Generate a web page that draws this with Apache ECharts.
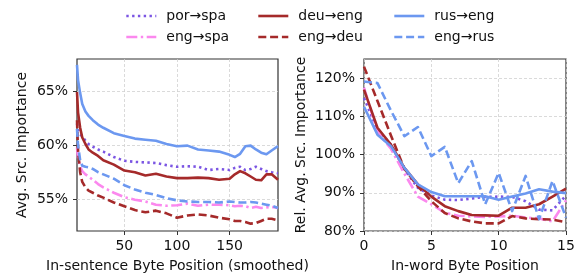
<!DOCTYPE html>
<html><head><meta charset="utf-8">
<script src="https://cdn.jsdelivr.net/npm/echarts@6/dist/echarts.min.js"></script>
<style>html,body{margin:0;padding:0;background:#fff}#c{width:579px;height:278px}</style>
</head><body><div id="c"></div>
<script>
// ---- Left panel: in-sentence byte position (smoothed) ----
const sentPos = [5, 6, 8, 10, 13, 16, 20, 25, 30, 40, 50, 60, 70, 80, 90, 100, 110, 120, 130, 140, 150, 155, 160, 165, 170, 175, 180, 185, 190, 196];
const sentPorSpa = [62.0, 61.4, 61.0, 60.8, 60.4, 60.1, 59.85, 59.6, 59.4, 58.9, 58.55, 58.45, 58.4, 58.35, 58.15, 58.0, 58.05, 58.0, 57.7, 57.8, 57.7, 57.9, 58.0, 57.7, 57.8, 58.0, 57.8, 57.6, 57.5, 57.4];
const sentEngSpa = [59.8, 58.8, 58.0, 57.6, 57.3, 57.1, 56.8, 56.4, 56.1, 55.6, 55.2, 54.95, 54.8, 54.5, 54.4, 54.45, 54.6, 54.4, 54.5, 54.5, 54.45, 54.35, 54.4, 54.35, 54.2, 54.3, 54.2, 54.25, 54.3, 54.2];
const sentDeuEng = [64.9, 63.0, 61.6, 60.7, 60.1, 59.6, 59.3, 59.0, 58.6, 58.2, 57.65, 57.5, 57.2, 57.35, 57.1, 56.95, 56.95, 57.0, 56.95, 56.8, 56.9, 57.3, 57.6, 57.4, 57.1, 56.8, 56.75, 57.3, 57.3, 56.8];
const sentEngDeu = [62.3, 59.5, 57.5, 56.6, 56.1, 55.8, 55.6, 55.35, 55.15, 54.7, 54.35, 54.0, 53.8, 53.95, 53.7, 53.3, 53.5, 53.6, 53.5, 53.3, 53.15, 53.0, 53.0, 52.9, 52.75, 52.8, 53.0, 53.2, 53.2, 53.05];
const sentRusEng = [67.4, 66.0, 64.8, 63.8, 63.1, 62.7, 62.3, 61.9, 61.6, 61.1, 60.85, 60.6, 60.5, 60.4, 60.1, 59.9, 59.95, 59.6, 59.5, 59.4, 59.1, 58.9, 59.2, 59.9, 59.95, 59.6, 59.3, 59.15, 59.5, 59.9];
const sentEngRus = [61.5, 60.0, 58.6, 58.1, 58.0, 57.95, 57.8, 57.5, 57.3, 56.9, 56.3, 55.9, 55.6, 55.4, 55.1, 54.9, 54.8, 54.75, 54.75, 54.7, 54.8, 54.75, 54.7, 54.7, 54.75, 54.7, 54.6, 54.5, 54.4, 54.2];

// ---- Right panel: in-word byte position ----
const wordPos = [0, 1, 2, 3, 4, 5, 6, 7, 8, 9, 10, 11, 12, 13, 14, 15];
const wordPorSpa = [114.8, 106.5, 102.6, 96.1, 91.3, 89.3, 88.2, 88.1, 88.5, 88.9, 89.0, 88.9, 87.8, 85.6, 85.4, 89.3];
const wordEngSpa = [117.5, 106.0, 101.5, 95.0, 89.0, 87.0, 84.8, 84.0, 83.8, 83.7, 83.8, 84.0, 83.5, 83.3, 82.5, 88.0];
const wordDeuEng = [117.0, 107.0, 102.6, 96.5, 92.2, 89.0, 86.5, 85.2, 84.2, 84.1, 84.0, 86.1, 86.1, 87.0, 89.0, 91.1];
const wordEngDeu = [123.0, 114.0, 105.0, 96.3, 91.7, 87.8, 84.7, 83.3, 82.5, 82.0, 82.0, 83.9, 83.3, 83.1, 83.0, 82.3];
const wordRusEng = [112.5, 105.2, 102.2, 96.5, 92.2, 90.2, 89.1, 89.1, 89.1, 89.1, 88.2, 89.0, 89.8, 90.9, 90.3, 89.9];
const wordEngRus = [119.1, 118.7, 111.5, 104.8, 107.2, 99.6, 102.0, 92.5, 98.3, 87.0, 95.2, 85.2, 94.4, 83.1, 93.1, 83.5];

// ---- tick labels ----
const leftXTicks = [50, 100, 150];
const leftYTicks = [55, 60, 65];
const rightXTicks = [0, 5, 10, 15];
const rightYTicks = [80, 90, 100, 110, 120];

const names = ['por→spa', 'eng→spa', 'deu→eng', 'eng→deu', 'rus→eng', 'eng→rus'];
const leftData = [sentPorSpa, sentEngSpa, sentDeuEng, sentEngDeu, sentRusEng, sentEngRus];
const rightData = [wordPorSpa, wordEngSpa, wordDeuEng, wordEngDeu, wordRusEng, wordEngRus];

const FONT = 'DejaVu Sans';
const styles = {
  'por→spa': { color: '#7b55e3', type: [2.4, 3.4] },
  'eng→spa': { color: '#fb88ee', type: [11, 3.5, 2.4, 3.5] },
  'deu→eng': { color: '#a52a2a', type: 'solid' },
  'eng→deu': { color: '#a52a2a', type: [8, 3.8] },
  'rus→eng': { color: '#6c98f0', type: 'solid' },
  'eng→rus': { color: '#6c98f0', type: [8, 3.8] }
};

function mkSeries(idx, xs, arrs) {
  return names.map((n, i) => ({
    name: n, type: 'line', xAxisIndex: idx, yAxisIndex: idx,
    data: xs.map((x, j) => [x, arrs[i][j]]),
    symbol: 'none', showSymbol: false, smooth: false,
    color: styles[n].color,
    itemStyle: { color: styles[n].color },
    lineStyle: { color: styles[n].color, width: 2.6, type: styles[n].type, cap: 'butt', join: 'round' },
    emphasis: { disabled: true }
  }));
}

const axisCommon = {
  axisLine: { show: false },
  axisTick: { show: true, length: 4, lineStyle: { color: '#333', width: 1 } },
  splitLine: { show: true, lineStyle: { color: '#d0d0d0', width: 0.8, type: [3, 2] } },
  nameTextStyle: { fontFamily: FONT, fontSize: 14, color: '#111' }
};
const lblStyle = { fontFamily: FONT, fontSize: 14, color: '#111' };

const legPos = [[125, 9], [125, 30], [257, 9], [257, 30], [393, 9], [393, 30]];
const legends = names.map((n, i) => ({
  data: [n], left: legPos[i][0], top: legPos[i][1], padding: 0,
  itemWidth: 30, itemHeight: 14, itemGap: 0,
  itemStyle: { opacity: 0, color: 'rgba(0,0,0,0)', borderWidth: 0 },
  lineStyle: { width: 2.6 },
  textStyle: { fontFamily: FONT, fontSize: 14, color: '#111', padding: [0, 0, 0, 5] }
}));

const option = {
  animation: false,
  backgroundColor: '#fff',
  legend: legends,
  grid: [
    { left: 77, top: 59, width: 201, height: 172, show: true, borderColor: '#333', borderWidth: 1.2, backgroundColor: 'transparent' },
    { left: 364, top: 59, width: 202, height: 172, show: true, borderColor: '#333', borderWidth: 1.2, backgroundColor: 'transparent' }
  ],
  xAxis: [
    Object.assign({}, axisCommon, {
      type: 'value', gridIndex: 0, min: 5, max: 196,
      name: 'In-sentence Byte Position (smoothed)', nameLocation: 'middle', nameGap: 28,
      axisTick: Object.assign({}, axisCommon.axisTick, { customValues: leftXTicks }),
      axisLabel: Object.assign({}, lblStyle, { customValues: leftXTicks, margin: 8 })
    }),
    Object.assign({}, axisCommon, {
      type: 'value', gridIndex: 1, min: 0, max: 15,
      name: 'In-word Byte Position', nameLocation: 'middle', nameGap: 28,
      axisTick: Object.assign({}, axisCommon.axisTick, { customValues: rightXTicks }),
      axisLabel: Object.assign({}, lblStyle, { customValues: rightXTicks, margin: 8 })
    })
  ],
  yAxis: [
    Object.assign({}, axisCommon, {
      type: 'value', gridIndex: 0, min: 52.07, max: 67.95,
      name: 'Avg. Src. Importance', nameLocation: 'middle', nameGap: 48,
      axisTick: Object.assign({}, axisCommon.axisTick, { customValues: leftYTicks }),
      axisLabel: Object.assign({}, lblStyle, { customValues: leftYTicks, margin: 9, formatter: v => v + '%' })
    }),
    Object.assign({}, axisCommon, {
      type: 'value', gridIndex: 1, min: 80, max: 125,
      name: 'Rel. Avg. Src. Importance', nameLocation: 'middle', nameGap: 56,
      axisTick: Object.assign({}, axisCommon.axisTick, { customValues: rightYTicks }),
      axisLabel: Object.assign({}, lblStyle, { customValues: rightYTicks, margin: 9, formatter: v => v + '%' })
    })
  ],
  series: mkSeries(0, sentPos, leftData).concat(mkSeries(1, wordPos, rightData))
};

const chart = echarts.init(document.getElementById('c'), null, { renderer: 'canvas' });
chart.setOption(option);
</script>
</body></html>
